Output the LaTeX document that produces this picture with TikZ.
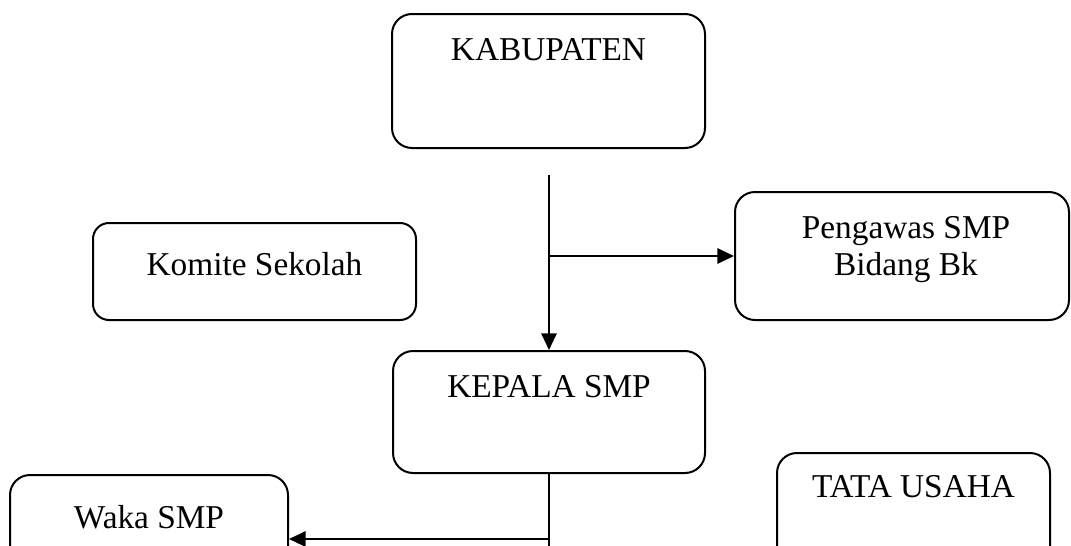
\documentclass[tikz,border=0pt]{standalone}
\usepackage{fontspec}
\setmainfont{Liberation Serif}
\usetikzlibrary{arrows.meta}
\begin{document}
\begin{tikzpicture}[x=0.75pt,y=-0.75pt,
  box/.style={draw,line width=1.5pt,rounded corners=15pt,minimum width=#1},
  lbl/.style={anchor=base,inner sep=0pt,font=\fontsize{25}{29}\selectfont},
  conn/.style={line width=1.5pt},
  arr/.style={line width=1.5pt,-{Triangle[length=12.5pt,width=11.5pt]}}]
\useasboundingbox (0,0) rectangle (1071,546);
\clip (0,0) rectangle (1071,546);
\node[box=234.75pt,minimum height=100.5pt] (kab) at (548.5,81) {};
\node[box=234pt,minimum height=91.5pt] (kep) at (549,412) {};
\node[box=242.25pt,minimum height=72.75pt,rounded corners=12pt] (kom) at (254.5,271.5) {};
\node[box=250.5pt,minimum height=96pt] (peng) at (902,256) {};
\node[box=208.5pt,minimum height=96pt] (waka) at (149,539) {};
\node[box=204.75pt,minimum height=105pt] (tata) at (913.5,523) {};
\node[lbl] (tkab) at (548.5,60) {KABUPATEN};
\node[lbl] (tkep) at (549,397) {KEPALA SMP};
\node[lbl] (tkom) at (254.5,275) {Komite Sekolah};
\node[lbl] (tpeng1) at (906,238) {Pengawas SMP};
\node[lbl] (tpeng2) at (906,275) {Bidang Bk};
\node[lbl] (twaka) at (149,528) {Waka SMP};
\node[lbl] (ttata) at (913.5,497) {TATA USAHA};
\coordinate (v1) at (549,175);
\coordinate (v2) at (549,560);
\draw[arr] (v1) -- (kep.north);
\draw[arr] (v1 |- peng.west) -- (peng.west);
\draw[conn] (kep.south) -- (v2);
\draw[arr] (kep.south |- waka.east) -- (waka.east);
\end{tikzpicture}
\end{document}
